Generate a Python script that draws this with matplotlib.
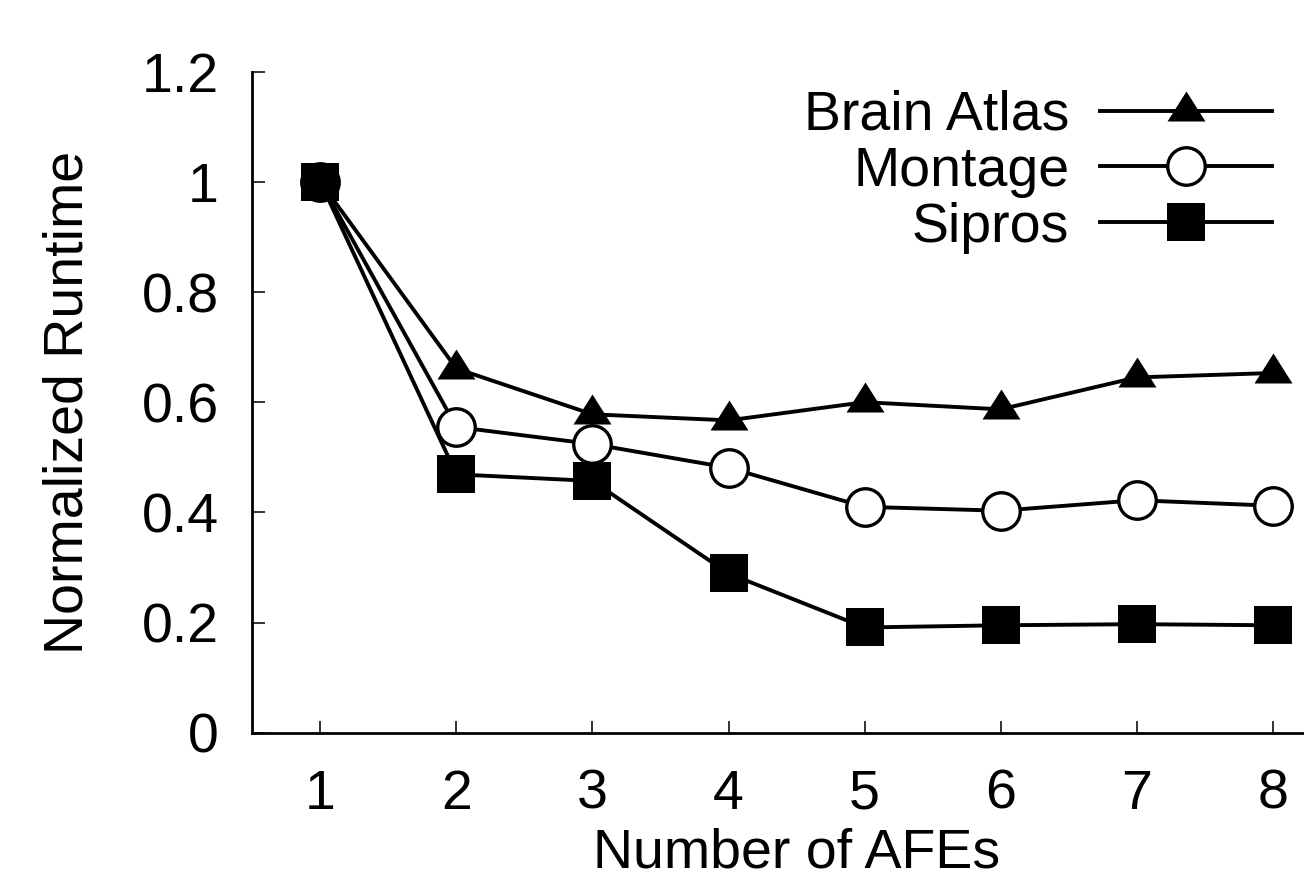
import matplotlib
matplotlib.use("Agg")
import matplotlib.pyplot as plt

plt.rcParams['font.family'] = ['Liberation Sans', 'DejaVu Sans']

afes = [1, 2, 3, 4, 5, 6, 7, 8]
brain_atlas = [1.0, 0.661, 0.578, 0.567, 0.600, 0.587, 0.645, 0.653]
montage = [1.0, 0.555, 0.524, 0.481, 0.410, 0.403, 0.422, 0.412]
sipros = [1.0, 0.469, 0.457, 0.289, 0.191, 0.195, 0.197, 0.195]
yticks = [0, 0.2, 0.4, 0.6, 0.8, 1.0, 1.2]
ytick_labels = ['0', '0.2', '0.4', '0.6', '0.8', '1', '1.2']

FS = 40

fig = plt.figure(figsize=(13.04, 8.82), dpi=100)
ax = fig.add_axes([0.1935, 0.1693, 0.8347, 0.7494])

tri = [(0, 1.053), (-1, -0.527), (1, -0.527)]
lw = 2.8
ax.plot(afes, brain_atlas, color='black', lw=lw, marker=tri, ms=28.8, mew=0,
        mfc='black', label='Brain Atlas', clip_on=False)
ax.plot(afes, montage, color='black', lw=lw, marker='o', ms=27.0, mew=2.4,
        mfc='white', mec='black', label='Montage', clip_on=False)
ax.plot(afes, sipros, color='black', lw=lw, marker='s', ms=27.4, mew=0,
        mfc='black', label='Sipros', clip_on=False)

ax.set_xlim(0.5, 8.5)
ax.set_ylim(0, 1.2)
ax.set_xticks(afes)
ax.set_yticks(yticks)
ax.set_yticklabels(ytick_labels)

for s in ['top', 'right']:
    ax.spines[s].set_visible(False)
for s in ['left', 'bottom']:
    ax.spines[s].set_linewidth(2.0)

ax.tick_params(axis='both', direction='in', length=9, width=1.4, labelsize=FS,
               color='#333333')
ax.tick_params(axis='y', pad=24)
ax.tick_params(axis='x', pad=26)

ax.set_xlabel('Number of AFEs', fontsize=FS, labelpad=5)
ax.set_ylabel('Normalized Runtime', fontsize=FS, labelpad=34)

leg = ax.legend(loc='upper right', bbox_to_anchor=(1272 / 1304, 1 - 90 / 882),
                bbox_transform=fig.transFigure, frameon=False, fontsize=FS,
                markerfirst=False, handlelength=3.1, handletextpad=0.55,
                labelspacing=0.07, borderpad=0, borderaxespad=0)
for t in leg.get_texts():
    t.set_ha('right')

fig.savefig('out.png', dpi=100)
